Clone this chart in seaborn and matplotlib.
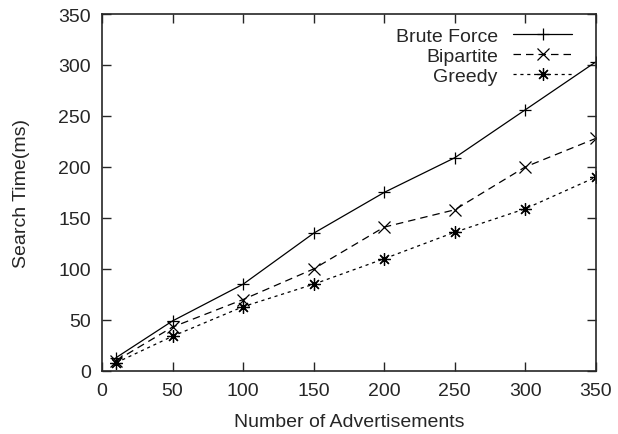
import pandas as pd
import seaborn as sns
import matplotlib.pyplot as plt

# values
ads = [10, 50, 100, 150, 200, 250, 300, 350]
brute_force = [13, 49, 85, 135, 175, 209, 256, 303]
bipartite = [10, 43, 70, 100, 141, 158, 200, 228]
greedy = [8, 34, 63, 85, 110, 136, 159, 190]
methods = ["Brute Force", "Bipartite", "Greedy"]

df = pd.DataFrame({
    "ads": ads * 3,
    "time": brute_force + bipartite + greedy,
    "method": [m for m in methods for _ in ads],
})

sns.set_style("ticks")
plt.rcParams['font.family'] = ['Liberation Sans', 'DejaVu Sans']
plt.rcParams['xtick.direction'] = 'in'
plt.rcParams['ytick.direction'] = 'in'

fig = plt.figure(figsize=(6.18, 4.35), dpi=100)
ax = fig.add_axes([0.165, 0.145, 0.799, 0.8205])

sns.lineplot(
    data=df, x="ads", y="time", style="method", ax=ax,
    color="k", linewidth=0.9,
    markers={"Brute Force": "+", "Bipartite": "x", "Greedy": (8, 2, 0)},
    dashes={"Brute Force": "", "Bipartite": (6, 4), "Greedy": (2.5, 3)},
    markersize=9, markeredgecolor="k", markeredgewidth=0.9,
    legend=False,
)

ax.set_xlim(0, 350)
ax.set_ylim(0, 350)
ax.set_xticks(range(0, 351, 50))
ax.set_yticks(range(0, 351, 50))
ax.tick_params(axis="both", labelsize=14, length=6.5, width=1, top=True, right=True, pad=8)
for s in ax.spines.values():
    s.set_linewidth(1.2)

ax.set_xlabel("Number of Advertisements", fontsize=14, labelpad=10)
ax.set_ylabel("Search Time(ms)", fontsize=14, labelpad=20)

ax.legend(ax.get_lines(), methods, loc="upper right", frameon=False,
          markerfirst=False, fontsize=14, handlelength=3.0,
          labelspacing=0.12, handletextpad=0.8,
          bbox_to_anchor=(0.975, 0.995), borderaxespad=0.2)

fig.savefig("out.png", dpi=100)
